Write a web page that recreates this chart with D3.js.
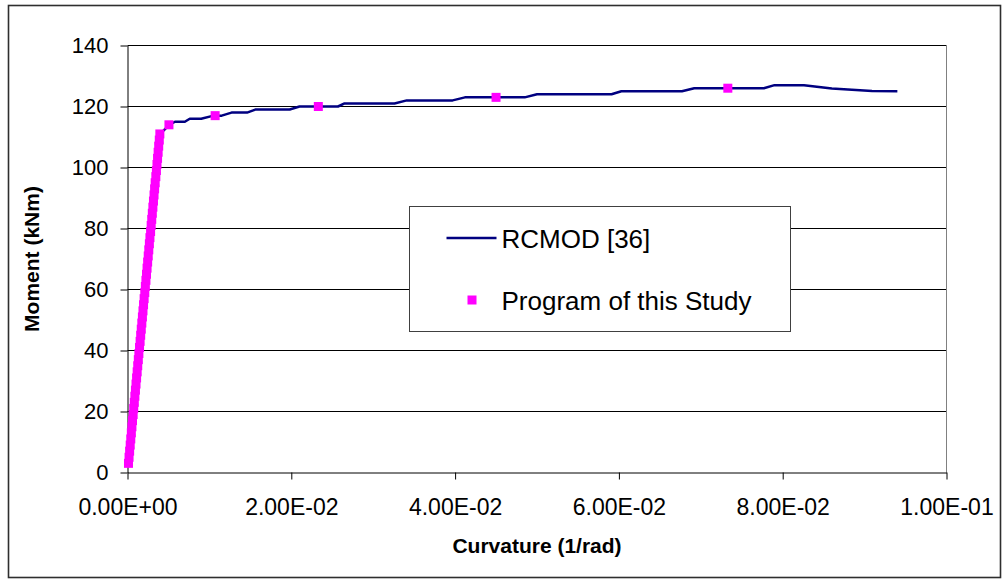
<!DOCTYPE html>
<html>
<head>
<meta charset="utf-8">
<script src="https://cdn.jsdelivr.net/npm/d3@7"></script>
<style>
  body { margin: 0; background: #fff; }
  text { font-family: "Liberation Sans", Arial, sans-serif; }
</style>
</head>
<body>
<div id="chart"></div>
<script>

// RCMOD [36] curve (curvature 1/rad, moment kNm)
var rcmodCurv = [0.0001, 0.0040, 0.0051, 0.0058, 0.0070, 0.0076, 0.0090, 0.0105, 0.0115, 0.0127, 0.0146,
                 0.0156, 0.0198, 0.0210, 0.0257, 0.0265, 0.0326, 0.0341, 0.0397, 0.0412, 0.0485, 0.0500,
                 0.0591, 0.0603, 0.0677, 0.0692, 0.0777, 0.0790, 0.0826, 0.0860, 0.0909, 0.0940];
var rcmodMom  = [2.5, 111, 114, 115, 115, 116, 116, 117, 117, 118, 118,
                 119, 119, 120, 120, 121, 121, 122, 122, 123, 123, 124,
                 124, 125, 125, 126, 126, 127, 127, 125.9, 125.1, 125];

// Program of this Study (markers)
var progCurv = [0.00012, 0.00019, 0.00026, 0.00033, 0.00040, 0.00047, 0.00054, 0.00061, 0.00069, 0.00076,
                0.00083, 0.00090, 0.00097, 0.00104, 0.00111, 0.00118, 0.00125, 0.00132, 0.00139, 0.00147,
                0.00154, 0.00161, 0.00168, 0.00175, 0.00182, 0.00189, 0.00196, 0.00203, 0.00211, 0.00218,
                0.00225, 0.00232, 0.00239, 0.00246, 0.00253, 0.00260, 0.00267, 0.00274, 0.00282, 0.00289,
                0.00296, 0.00303, 0.00310, 0.00317, 0.00324, 0.00331, 0.00338, 0.00346, 0.00353, 0.00360,
                0.00367, 0.00374, 0.00381, 0.00388, 0.00395,
                0.00506, 0.0107, 0.0233, 0.0450, 0.0733];
var progMom  = [3, 5, 7, 9, 11, 13, 15, 17, 19, 21,
                23, 25, 27, 29, 31, 33, 35, 37, 39, 41,
                43, 45, 47, 49, 51, 53, 55, 57, 59, 61,
                63, 65, 67, 69, 71, 73, 75, 77, 79, 81,
                83, 85, 87, 89, 91, 93, 95, 97, 99, 101,
                103, 105, 107, 109, 111,
                114, 117, 120, 123, 126];

var xTicks = [0, 0.02, 0.04, 0.06, 0.08, 0.1];
var yTicks = [0, 20, 40, 60, 80, 100, 120, 140];
var legendLabels = ["RCMOD [36]", "Program of this Study"];

var W = 1003, H = 581;
var plot = {left: 127.5, right: 946.5, top: 45.5, bottom: 472.5};

var svg = d3.select("#chart").append("svg")
    .attr("width", W)
    .attr("height", H);

// outer chart border
svg.append("rect")
    .attr("x", 8.5).attr("y", 5.5)
    .attr("width", 992).attr("height", 572)
    .attr("fill", "#fff")
    .attr("stroke", "#2e2e2e")
    .attr("stroke-width", 1.6);

var x = d3.scaleLinear().domain([0, 0.1]).range([plot.left, plot.right]);
var y = d3.scaleLinear().domain([0, 140]).range([plot.bottom, plot.top]);

var sci = function(v) {
    return d3.format(".2e")(v).replace(/e([+-])(\d)$/, "E$10$2").replace("e", "E");
};

// gridlines
svg.append("g").selectAll("line")
    .data(yTicks.slice(1))
    .enter().append("line")
    .attr("x1", plot.left).attr("x2", plot.right)
    .attr("y1", function(d) { return y(d); })
    .attr("y2", function(d) { return y(d); })
    .attr("stroke", "#000")
    .attr("stroke-width", 1);

// plot area right border
svg.append("line")
    .attr("x1", plot.right).attr("x2", plot.right)
    .attr("y1", plot.top).attr("y2", plot.bottom)
    .attr("stroke", "#808080");

// axes
var yAxis = svg.append("g")
    .attr("transform", "translate(" + plot.left + ",0)")
    .call(d3.axisLeft(y).tickValues(yTicks).tickSize(7).tickPadding(12).tickSizeOuter(0));
yAxis.selectAll("text").style("font-size", "22px").attr("fill", "#000");

var xAxis = svg.append("g")
    .attr("transform", "translate(0," + plot.bottom + ")")
    .call(d3.axisBottom(x).tickValues(xTicks).tickFormat(sci).tickSize(7).tickPadding(19).tickSizeOuter(0));
xAxis.selectAll("text").style("font-size", "23px").attr("fill", "#000");

svg.selectAll(".domain, .tick line").attr("stroke", "#000");
svg.selectAll(".tick line").attr("stroke-width", 1);

// RCMOD line
var line = d3.line()
    .x(function(d) { return x(d[0]); })
    .y(function(d) { return y(d[1]); });

svg.append("path")
    .datum(d3.zip(rcmodCurv, rcmodMom))
    .attr("d", line)
    .attr("fill", "none")
    .attr("stroke", "#000080")
    .attr("stroke-width", 2.5)
    .attr("stroke-linejoin", "round");

// Program markers
svg.append("g").selectAll("rect")
    .data(d3.zip(progCurv, progMom))
    .enter().append("rect")
    .attr("x", function(d) { return x(d[0]) - 4.5; })
    .attr("y", function(d) { return y(d[1]) - 4.5; })
    .attr("width", 9).attr("height", 9)
    .attr("fill", "#ff00ff");

// axis titles
svg.append("text")
    .attr("x", (plot.left + plot.right) / 2)
    .attr("y", 553)
    .attr("text-anchor", "middle")
    .style("font-size", "21px")
    .style("font-weight", "bold")
    .text("Curvature (1/rad)");

svg.append("text")
    .attr("transform", "translate(39," + ((plot.top + plot.bottom) / 2) + ") rotate(-90)")
    .attr("text-anchor", "middle")
    .style("font-size", "21px")
    .style("font-weight", "bold")
    .text("Moment (kNm)");

// legend
var legend = svg.append("g").attr("transform", "translate(409.5,206.5)");
legend.append("rect")
    .attr("width", 381).attr("height", 125)
    .attr("fill", "#fff")
    .attr("stroke", "#404040");
legend.append("line")
    .attr("x1", 37).attr("x2", 87)
    .attr("y1", 31.5).attr("y2", 31.5)
    .attr("stroke", "#000080")
    .attr("stroke-width", 2.5);
legend.append("rect")
    .attr("x", 58).attr("y", 89)
    .attr("width", 9).attr("height", 9)
    .attr("fill", "#ff00ff");
legend.selectAll("text.lbl")
    .data(legendLabels)
    .enter().append("text")
    .attr("class", "lbl")
    .attr("x", 92)
    .attr("y", function(d, i) { return 41 + i * 62.5; })
    .style("font-size", "26px")
    .text(function(d) { return d; });

</script>
</body>
</html>
